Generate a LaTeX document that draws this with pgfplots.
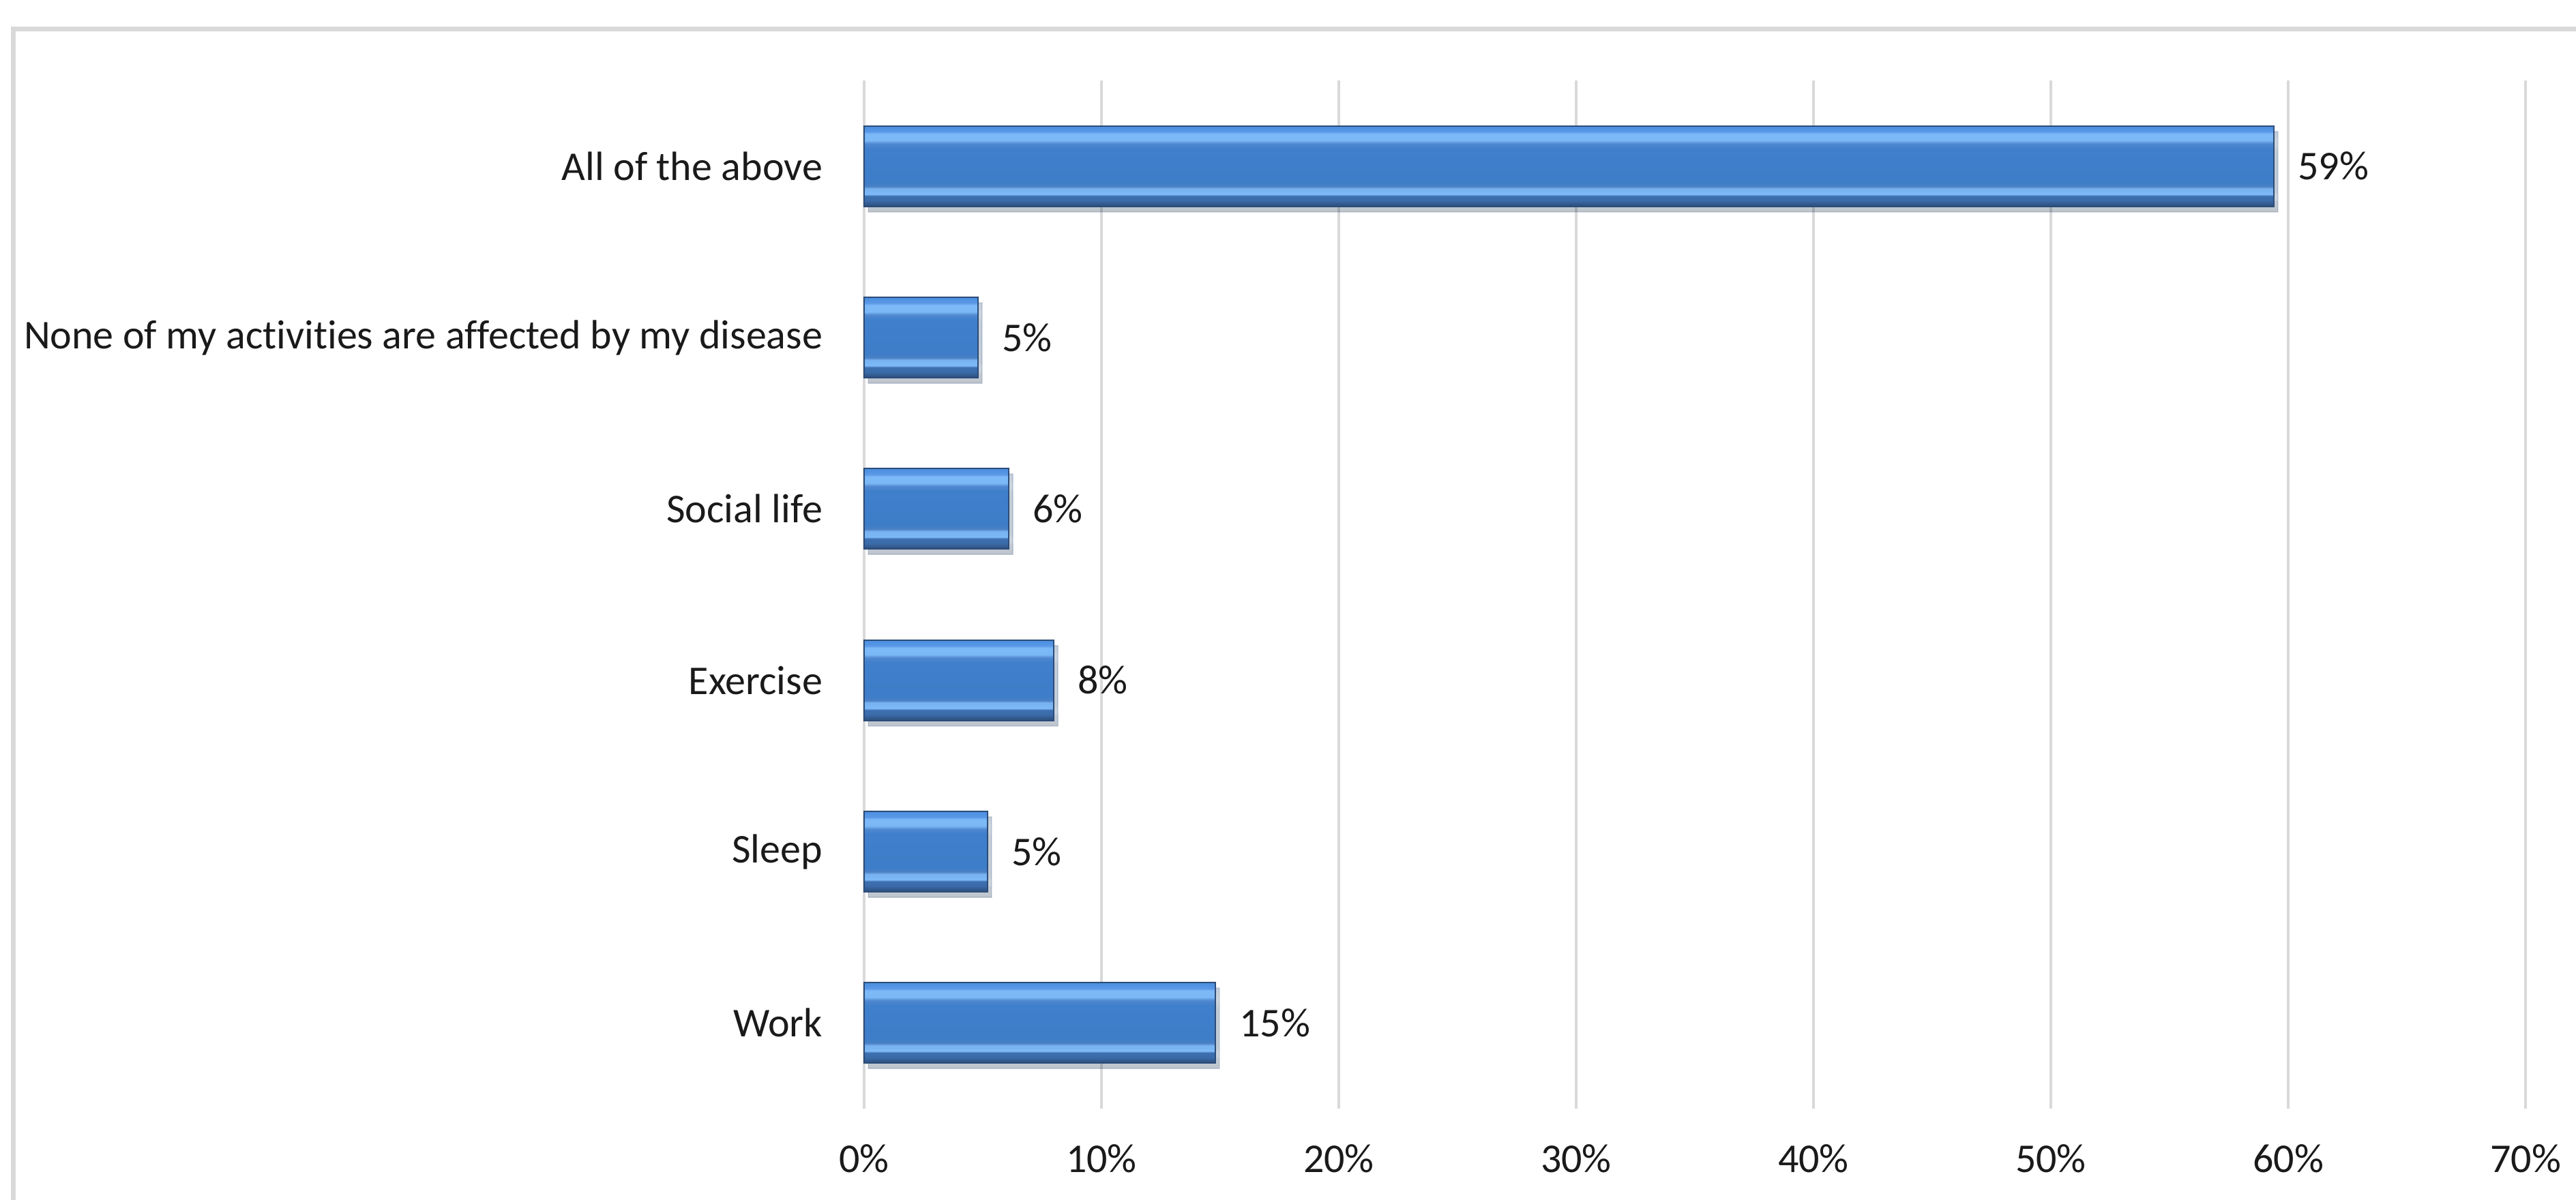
\documentclass[border=0pt]{standalone}
\usepackage{pgfplots}
\pgfplotsset{compat=1.18}
\usepackage{fontspec}
\setmainfont{Carlito}[Ligatures=NoCommon]
\definecolor{gridc}{HTML}{D9D9D9}
\definecolor{framec}{HTML}{D9D9D9}
\definecolor{edgec}{HTML}{2C4C78}
\definecolor{bA}{HTML}{3A6AA8}
\definecolor{bB}{HTML}{3D70B0}
\definecolor{bC}{HTML}{7DB9F8}
\definecolor{bD}{HTML}{78B2F0}
\definecolor{bE}{HTML}{4A80C4}
\definecolor{bF}{HTML}{3E7DC8}
\definecolor{bG}{HTML}{3F7FCC}
\definecolor{bH}{HTML}{5088D0}
\definecolor{bI}{HTML}{7BB8F5}
\definecolor{bJ}{HTML}{5A98E6}
\definecolor{bK}{HTML}{4A8EE0}
\definecolor{txt}{HTML}{1A1A1A}
\pgfdeclareverticalshading{bevel}{100bp}{%
color(0bp)=(edgec);
color(25bp)=(edgec);
color(28.5bp)=(bA);
color(31.5bp)=(bB);
color(32.5bp)=(bC);
color(36bp)=(bD);
color(37.5bp)=(bE);
color(40bp)=(bF);
color(61bp)=(bG);
color(64bp)=(bH);
color(66bp)=(bI);
color(70bp)=(bC);
color(71.5bp)=(bJ);
color(75bp)=(bK);
color(100bp)=(bK)}
\pgfplotsset{
  bevelbar/.style={xbar, bar width=23.6pt, bar shift=0pt, shading=bevel, draw=edgec, line width=0.4pt,
  preaction={fill=black, opacity=0.15, transform canvas={xshift=1.2pt, yshift=-1.6pt}},
  point meta=x,
  nodes near coords={\pgfmathprintnumber[fixed,precision=0]{\pgfplotspointmeta}\%},
  nodes near coords style={anchor=west, xshift=3.5pt, font=\fontsize{12}{14}\selectfont, text=txt, /pgf/number format/assume math mode=true},
  }
}
\begin{document}
\begin{tikzpicture}
\useasboundingbox (0,0) rectangle (755.4pt,351.8pt);
% chart frame (top and left edges visible)
\draw[framec, line width=1.4pt] (3.8pt,-5pt) -- (3.8pt,343.2pt) -- (760pt,343.2pt);
\begin{axis}[
  at={(253.4pt,26.6pt)}, anchor=south west,
  scale only axis,
  width=487.2pt, height=301.6pt,
  xmin=0, xmax=70, ymin=-0.5, ymax=5.5,
  xtick={0,10,...,70},
  xticklabel={\pgfmathprintnumber{\tick}\%},
  ytick={0,...,5},
  yticklabels={Work,Sleep,Exercise,Social life,None of my activities are affected by my disease,All of the above},
  axis line style={draw=none},
  tick style={draw=none},
  xmajorgrids, major grid style={gridc, line width=0.8pt},
  /pgf/number format/assume math mode=true,
  ticklabel style={font=\fontsize{12}{14}\selectfont, text=txt},
  xticklabel style={anchor=center, yshift=-14.7pt},
  yticklabel style={anchor=east, inner sep=0pt, xshift=-12pt},
  clip=false,
]
\addplot[bevelbar] coordinates {(14.8,0)};
\addplot[bevelbar] coordinates {(5.2,1)};
\addplot[bevelbar] coordinates {(8.0,2)};
\addplot[bevelbar] coordinates {(6.1,3)};
\addplot[bevelbar] coordinates {(4.8,4)};
\addplot[bevelbar] coordinates {(59.4,5)};
\end{axis}
\end{tikzpicture}
\end{document}
